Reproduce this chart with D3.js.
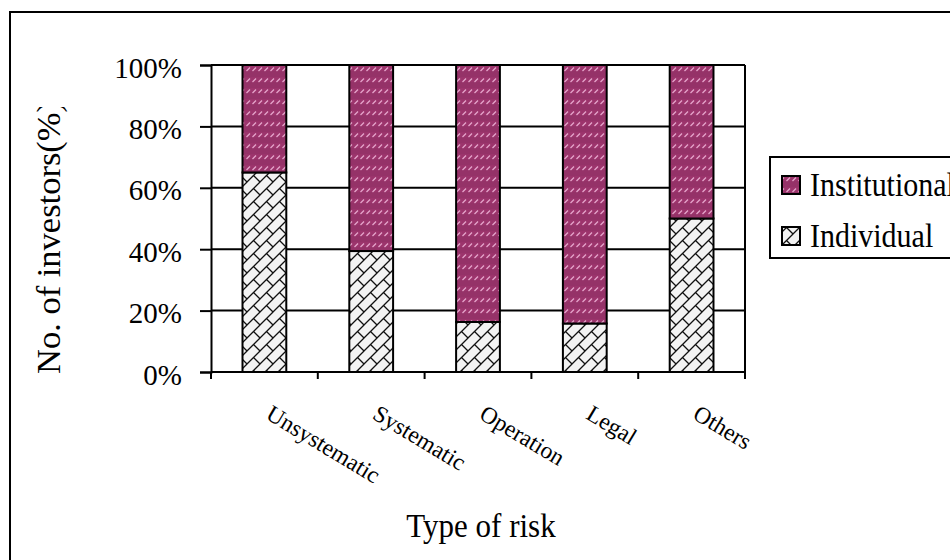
<!DOCTYPE html>
<html>
<head>
<meta charset="utf-8">
<script src="https://cdn.jsdelivr.net/npm/d3@7"></script>
<style>
  html, body { margin: 0; padding: 0; background: #fff; }
  svg { display: block; font-family: "Liberation Serif", "Times New Roman", serif; }
</style>
</head>
<body>
<svg id="chart" width="950" height="560"></svg>
<script>
const categories = ["Unsystematic", "Systematic", "Operation", "Legal", "Others"];
const individual = [65, 39.4, 16.3, 15.8, 50];
const institutional = [35, 60.6, 83.7, 84.2, 50];
const seriesNames = ["Institutional", "Individual"];
const yTicks = [0, 20, 40, 60, 80, 100];
const yTitle = "No. of investors(%)";
const xTitle = "Type of risk";

const svg = d3.select("#chart");
const defs = svg.append("defs");

// Pattern for Institutional: plum with light pink dashed diagonals
const pInst = defs.append("pattern").attr("id", "pInst")
  .attr("patternUnits", "userSpaceOnUse").attr("width", 6).attr("height", 11);
pInst.append("rect").attr("width", 6).attr("height", 11).attr("fill", "#953268");
pInst.append("rect").attr("y", 0).attr("width", 6).attr("height", 5).attr("fill", "#9c346c");
pInst.append("line").attr("x1", 0.5).attr("y1", 5).attr("x2", 4).attr("y2", 1.5)
  .attr("stroke", "#e6a6cc").attr("stroke-width", 1.3);

// Pattern for Individual: diagonal brick
const s = 13;
const pInd = defs.append("pattern").attr("id", "pInd")
  .attr("patternUnits", "userSpaceOnUse").attr("width", s).attr("height", s);
pInd.append("rect").attr("width", s).attr("height", s).attr("fill", "#f3f3f3");
pInd.append("path")
  .attr("d", `M0,${s} L${s},0 M${-1},1 L1,-1 M${s-1},${s+1} L${s+1},${s-1} M${s/2},${s/2} L${s},${s}`)
  .attr("stroke", "#111").attr("stroke-width", 1.3).attr("fill", "none");

// Outer frame
svg.append("rect").attr("x", 10).attr("y", 12).attr("width", 1000).attr("height", 600)
  .attr("fill", "none").attr("stroke", "#000").attr("stroke-width", 2);

const x = d3.scaleBand().domain(categories).range([211, 745])
  .paddingInner(0.59).paddingOuter(0.295);
const y = d3.scaleLinear().domain([0, 100]).range([372, 65]);

// Gridlines
svg.append("g").selectAll("line").data(yTicks.filter(d => d > 0)).join("line")
  .attr("x1", 211).attr("x2", 745)
  .attr("y1", d => y(d)).attr("y2", d => y(d))
  .attr("stroke", "#000").attr("stroke-width", 2);
// Right border of plot area
svg.append("line").attr("x1", 745).attr("x2", 745).attr("y1", y(100)).attr("y2", y(0))
  .attr("stroke", "#000").attr("stroke-width", 2);

// Bars
const stackData = categories.map((c, i) => ({ cat: c, ind: individual[i], inst: institutional[i] }));
const g = svg.append("g");
g.selectAll(".ind").data(stackData).join("rect").attr("class", "ind")
  .attr("x", d => x(d.cat)).attr("width", x.bandwidth())
  .attr("y", d => y(d.ind)).attr("height", d => y(0) - y(d.ind))
  .attr("fill", "url(#pInd)").attr("stroke", "#000").attr("stroke-width", 2);
g.selectAll(".inst").data(stackData).join("rect").attr("class", "inst")
  .attr("x", d => x(d.cat)).attr("width", x.bandwidth())
  .attr("y", d => y(d.ind + d.inst)).attr("height", d => y(d.ind) - y(d.ind + d.inst))
  .attr("fill", "url(#pInst)").attr("stroke", "#000").attr("stroke-width", 2);

// Y axis
const yAxis = svg.append("g").attr("transform", "translate(211,0)")
  .call(d3.axisLeft(y).tickValues(yTicks).tickSize(11).tickPadding(18).tickFormat(d => d + "%"));
yAxis.select(".domain").attr("stroke-width", 2);
yAxis.selectAll(".tick line").attr("stroke-width", 2);
yAxis.selectAll(".tick text").attr("font-size", 29).attr("dy", 12)
  .attr("font-family", "Liberation Serif").attr("fill", "#000");

// X axis (boundary ticks)
const xAxis = svg.append("g").attr("transform", `translate(0,${y(0)})`);
xAxis.append("line").attr("x1", 211).attr("x2", 745).attr("stroke", "#000").attr("stroke-width", 2);
const edges = [x.range()[0]].concat(categories.map(c => x(c) + x.bandwidth() + x.step() * x.paddingInner() / 2));
xAxis.selectAll(".xt").data(edges).join("line").attr("class", "xt")
  .attr("x1", d => d).attr("x2", d => d).attr("y1", 0).attr("y2", 7)
  .attr("stroke", "#000").attr("stroke-width", 2);

// Category labels, rotated
svg.append("g").selectAll("text").data(categories).join("text")
  .attr("transform", d => `translate(${x(d) + x.bandwidth() / 2},418) rotate(31)`)
  .attr("font-size", 23.5).attr("fill", "#000")
  .text(d => d);

// Y title (clipped at top like the reference)
defs.append("clipPath").attr("id", "yclip").append("rect")
  .attr("x", 0).attr("y", 107).attr("width", 120).attr("height", 400);
svg.append("g").attr("clip-path", "url(#yclip)").append("text")
  .attr("transform", "translate(60,374) rotate(-90)")
  .attr("font-size", 34.5).attr("fill", "#000").text(yTitle);

// X title
svg.append("text").attr("transform", "translate(481,537) scale(1,1.07)")
  .attr("text-anchor", "middle").attr("font-size", 31).attr("fill", "#000").text(xTitle);

// Legend
svg.append("rect").attr("x", 770).attr("y", 157).attr("width", 300).attr("height", 101)
  .attr("fill", "#fff").attr("stroke", "#000").attr("stroke-width", 2);
const legY = [196, 247];
const legFill = ["url(#pInst)", "url(#pInd)"];
seriesNames.forEach((nm, i) => {
  svg.append("rect").attr("x", 782).attr("y", legY[i] - 20).attr("width", 18).attr("height", 18)
    .attr("fill", legFill[i]).attr("stroke", "#000").attr("stroke-width", 2);
  svg.append("text").attr("transform", `translate(810,${legY[i]}) scale(1,1.1)`)
    .attr("font-size", 30).attr("fill", "#000").text(nm);
});
</script>
</body>
</html>
